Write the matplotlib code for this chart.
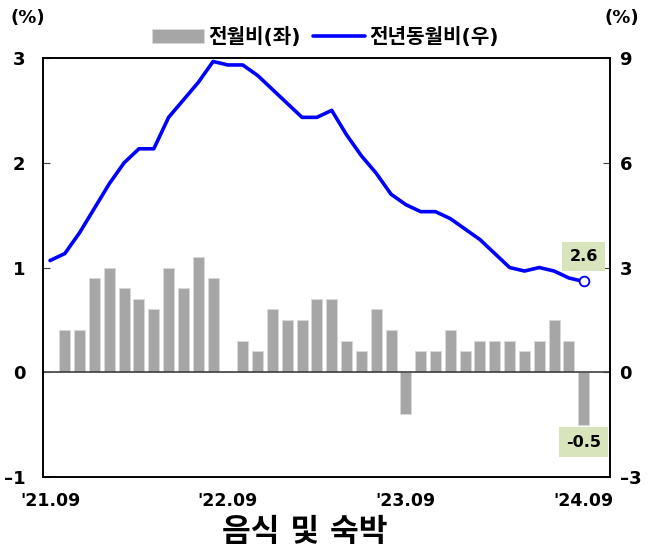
import matplotlib
matplotlib.use('Agg')
from matplotlib import pyplot as plt

plt.rcParams['font.family'] = ['DejaVu Sans', 'Noto Sans CJK KR']
plt.rcParams['font.weight'] = 'bold'

# months '21.09 ~ '24.09
months = ["'21.09", "'21.10", "'21.11", "'21.12", "'22.01", "'22.02", "'22.03", "'22.04",
          "'22.05", "'22.06", "'22.07", "'22.08", "'22.09", "'22.10", "'22.11", "'22.12",
          "'23.01", "'23.02", "'23.03", "'23.04", "'23.05", "'23.06", "'23.07", "'23.08",
          "'23.09", "'23.10", "'23.11", "'23.12", "'24.01", "'24.02", "'24.03", "'24.04",
          "'24.05", "'24.06", "'24.07", "'24.08", "'24.09"]
mom = [0.0, 0.4, 0.4, 0.9, 1.0, 0.8, 0.7, 0.6, 1.0, 0.8, 1.1, 0.9,
       0.0, 0.3, 0.2, 0.6, 0.5, 0.5, 0.7, 0.7, 0.3, 0.2, 0.6, 0.4,
       -0.4, 0.2, 0.2, 0.4, 0.2, 0.3, 0.3, 0.3, 0.2, 0.3, 0.5, 0.3, -0.5]
yoy = [3.2, 3.4, 4.0, 4.7, 5.4, 6.0, 6.4, 6.4, 7.3, 7.8, 8.3, 8.9,
       8.8, 8.8, 8.5, 8.1, 7.7, 7.3, 7.3, 7.5, 6.8, 6.2, 5.7, 5.1,
       4.8, 4.6, 4.6, 4.4, 4.1, 3.8, 3.4, 3.0, 2.9, 3.0, 2.9, 2.7, 2.6]
tick_idx = [0, 12, 24, 36]
left_ticks = [-1, 0, 1, 2, 3]
right_ticks = [-3, 0, 3, 6, 9]

x = list(range(len(months)))

fig = plt.figure(figsize=(6.51, 5.49), dpi=100)
ax = fig.add_axes([0.0668, 0.131, 0.87, 0.7634])
ax2 = ax.twinx()

bars = ax.bar(x, mom, width=0.74, color='#a6a6a6', edgecolor='#d9d9d9', linewidth=0.6,
              label='전월비(좌)', zorder=2)
ax.axhline(0, color='#404040', linewidth=1.2, zorder=2.5)
line, = ax2.plot(x, yoy, color='#0000ff', linewidth=2.6, label='전년동월비(우)', zorder=3,
                 solid_capstyle='round')
ax2.plot(x[-1], yoy[-1], marker='o', markersize=7, markerfacecolor='white',
         markeredgecolor='#0000ff', markeredgewidth=1.3, zorder=4)

ax.set_xlim(-0.44, 37.76)
ax.set_ylim(-1, 3)
ax2.set_ylim(-3, 9)
ax.set_yticks(left_ticks)
ax.set_yticklabels([str(v).replace('-', '–') for v in left_ticks])
ax2.set_yticks(right_ticks)
ax2.set_yticklabels([str(v).replace('-', '–') for v in right_ticks])
ax.set_xticks(tick_idx)
ax.set_xticklabels([months[i] for i in tick_idx])

ax.tick_params(axis='x', length=0, labelsize=12.5, pad=11)
ax.tick_params(axis='y', direction='in', length=5, labelsize=13, pad=13, color='#404040')
ax2.tick_params(axis='y', direction='in', length=5, labelsize=13, pad=7, color='#404040')
for lbl in ax.get_xticklabels() + ax.get_yticklabels() + ax2.get_yticklabels():
    lbl.set_fontweight('bold')

for sp in ax.spines.values():
    sp.set_linewidth(1.2)
for sp in ax2.spines.values():
    sp.set_linewidth(1.2)

ax2.annotate(f'{yoy[-1]:.1f}', (x[-1], yoy[-1]), xytext=(0, 18), textcoords='offset points',
             ha='center', va='center', fontsize=11.5, fontweight='bold',
             bbox=dict(boxstyle='square,pad=0.45', facecolor='#d8e4bc', edgecolor='none'))
ax.annotate(f'{mom[-1]:.1f}', (x[-1], mom[-1]), xytext=(0, -12.5), textcoords='offset points',
            ha='center', va='center', fontsize=11.5, fontweight='bold',
            bbox=dict(boxstyle='square,pad=0.45', facecolor='#d8e4bc', edgecolor='none'))

fig.text(0.043, 0.967, '(%)', ha='center', va='center', fontsize=13, fontweight='bold')
fig.text(0.955, 0.967, '(%)', ha='center', va='center', fontsize=13, fontweight='bold')

fig.legend([bars, line], ['전월비(좌)', '전년동월비(우)'], loc='center', bbox_to_anchor=(0.5, 0.932),
           ncol=2, frameon=False, handlelength=2.6, handletextpad=0.2,
           columnspacing=0.6, prop={'weight': 'bold', 'size': 14.5})

fig.text(0.468, 0.03, '음식 및 숙박', ha='center', va='center', fontsize=22.5, fontweight='bold')

fig.savefig('out.png', dpi=100)
